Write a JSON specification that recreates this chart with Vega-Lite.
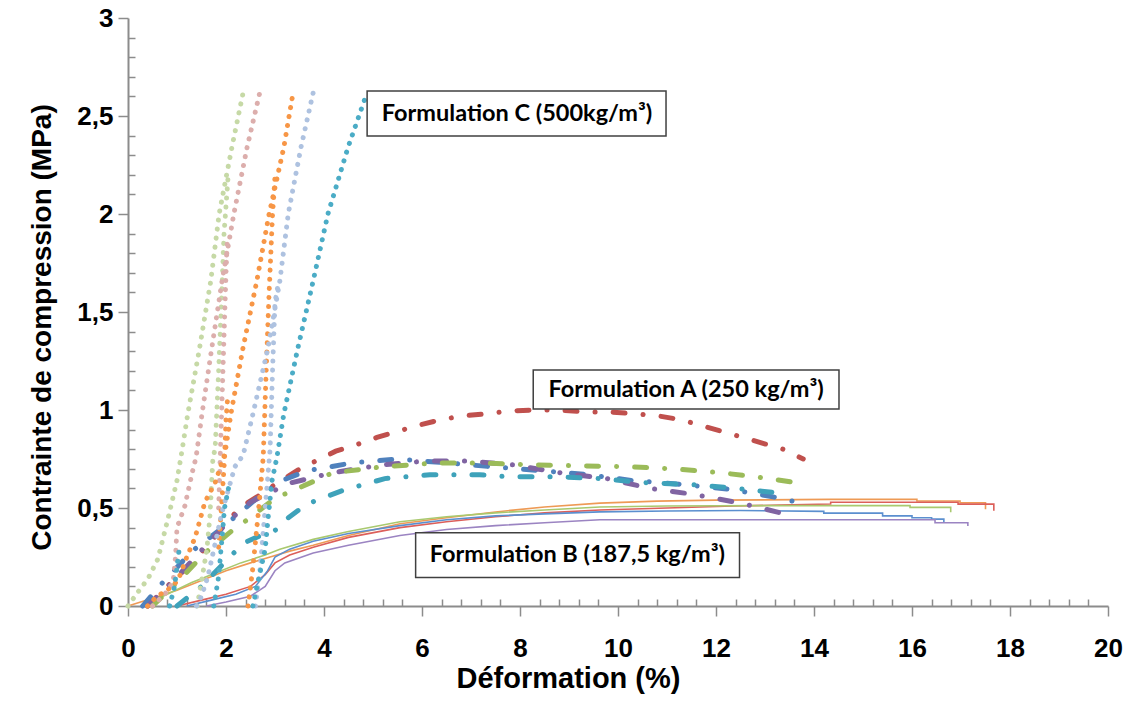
{
  "$schema": "https://vega.github.io/schema/vega-lite/v6.json",
  "width": 980,
  "height": 588,
  "autosize": {"type": "none"},
  "padding": {"left": 128, "top": 18, "right": 35, "bottom": 99},
  "background": "white",
  "config": {
    "view": {"stroke": null},
    "axis": {
      "grid": false,
      "domainColor": "#8c8c8c",
      "domainWidth": 2,
      "tickColor": "#8c8c8c",
      "tickWidth": 1.5,
      "labelFont": "Liberation Sans",
      "labelFontWeight": "bold",
      "labelFontSize": 26,
      "labelColor": "black",
      "labelFlush": false,
      "labelOverlap": false,
      "titleFont": "Liberation Sans",
      "titleFontWeight": "bold",
      "titleColor": "black"
    }
  },
  "datasets": {
    "curves": [
      {"f":"C","s":"C1","x":0,"y":0},{"f":"C","s":"C1","x":0.2,"y":0.07},{"f":"C","s":"C1","x":0.41,"y":0.14},{"f":"C","s":"C1","x":0.61,"y":0.24},{"f":"C","s":"C1","x":0.82,"y":0.45},{"f":"C","s":"C1","x":1.0,"y":0.64},{"f":"C","s":"C1","x":1.1,"y":0.79},{"f":"C","s":"C1","x":1.22,"y":0.98},{"f":"C","s":"C1","x":1.45,"y":1.3},{"f":"C","s":"C1","x":1.69,"y":1.66},{"f":"C","s":"C1","x":1.86,"y":2.0},{"f":"C","s":"C1","x":2.12,"y":2.34},{"f":"C","s":"C1","x":2.35,"y":2.62},
      {"f":"C","s":"C1b","x":1.41,"y":0},{"f":"C","s":"C1b","x":1.47,"y":0.08},{"f":"C","s":"C1b","x":1.61,"y":0.29},{"f":"C","s":"C1b","x":1.67,"y":0.45},{"f":"C","s":"C1b","x":1.73,"y":0.74},{"f":"C","s":"C1b","x":1.78,"y":0.81},{"f":"C","s":"C1b","x":1.85,"y":1.2},{"f":"C","s":"C1b","x":1.9,"y":1.5},{"f":"C","s":"C1b","x":1.96,"y":1.9},{"f":"C","s":"C1b","x":2.04,"y":2.18},
      {"f":"C","s":"C2","x":0.5,"y":0},{"f":"C","s":"C2","x":0.75,"y":0.06},{"f":"C","s":"C2","x":0.92,"y":0.12},{"f":"C","s":"C2","x":0.97,"y":0.25},{"f":"C","s":"C2","x":1.0,"y":0.4},{"f":"C","s":"C2","x":1.16,"y":0.51},{"f":"C","s":"C2","x":1.31,"y":0.68},{"f":"C","s":"C2","x":1.39,"y":0.76},{"f":"C","s":"C2","x":1.51,"y":0.98},{"f":"C","s":"C2","x":1.7,"y":1.3},{"f":"C","s":"C2","x":1.92,"y":1.66},{"f":"C","s":"C2","x":2.16,"y":2.0},{"f":"C","s":"C2","x":2.43,"y":2.34},{"f":"C","s":"C2","x":2.69,"y":2.62},
      {"f":"C","s":"C2b","x":1.85,"y":0.5},{"f":"C","s":"C2b","x":1.9,"y":0.9},{"f":"C","s":"C2b","x":1.95,"y":1.3},{"f":"C","s":"C2b","x":2.0,"y":1.7},{"f":"C","s":"C2b","x":2.03,"y":1.88},
      {"f":"C","s":"C3","x":0.4,"y":0},{"f":"C","s":"C3","x":0.59,"y":0.05},{"f":"C","s":"C3","x":0.8,"y":0.08},{"f":"C","s":"C3","x":1.02,"y":0.13},{"f":"C","s":"C3","x":1.2,"y":0.25},{"f":"C","s":"C3","x":1.37,"y":0.35},{"f":"C","s":"C3","x":1.57,"y":0.53},{"f":"C","s":"C3","x":1.78,"y":0.63},{"f":"C","s":"C3","x":1.98,"y":0.78},{"f":"C","s":"C3","x":2.1,"y":0.98},{"f":"C","s":"C3","x":2.35,"y":1.32},{"f":"C","s":"C3","x":2.63,"y":1.66},{"f":"C","s":"C3","x":2.88,"y":2.0},{"f":"C","s":"C3","x":3.18,"y":2.34},{"f":"C","s":"C3","x":3.37,"y":2.62},
      {"f":"C","s":"C3b","x":2.45,"y":0},{"f":"C","s":"C3b","x":2.55,"y":0.2},{"f":"C","s":"C3b","x":2.65,"y":0.45},{"f":"C","s":"C3b","x":2.76,"y":0.76},{"f":"C","s":"C3b","x":2.82,"y":1.2},{"f":"C","s":"C3b","x":2.88,"y":1.6},{"f":"C","s":"C3b","x":2.95,"y":2.0},{"f":"C","s":"C3b","x":3.0,"y":2.19},
      {"f":"C","s":"C3c","x":1.85,"y":0.3},{"f":"C","s":"C3c","x":1.92,"y":0.55},{"f":"C","s":"C3c","x":1.97,"y":0.75},{"f":"C","s":"C3c","x":2.0,"y":0.95},{"f":"C","s":"C3c","x":2.03,"y":1.05},
      {"f":"C","s":"C4","x":1.4,"y":0},{"f":"C","s":"C4","x":1.5,"y":0.05},{"f":"C","s":"C4","x":1.63,"y":0.15},{"f":"C","s":"C4","x":1.78,"y":0.32},{"f":"C","s":"C4","x":1.92,"y":0.48},{"f":"C","s":"C4","x":2.18,"y":0.71},{"f":"C","s":"C4","x":2.35,"y":0.77},{"f":"C","s":"C4","x":2.55,"y":0.98},{"f":"C","s":"C4","x":2.86,"y":1.32},{"f":"C","s":"C4","x":3.1,"y":1.66},{"f":"C","s":"C4","x":3.27,"y":2.0},{"f":"C","s":"C4","x":3.53,"y":2.34},{"f":"C","s":"C4","x":3.78,"y":2.62},
      {"f":"C","s":"C4b","x":2.6,"y":0},{"f":"C","s":"C4b","x":2.7,"y":0.2},{"f":"C","s":"C4b","x":2.8,"y":0.5},{"f":"C","s":"C4b","x":2.9,"y":0.8},{"f":"C","s":"C4b","x":2.95,"y":1.2},{"f":"C","s":"C4b","x":3.0,"y":1.55},{"f":"C","s":"C4b","x":3.05,"y":1.62},
      {"f":"C","s":"C5","x":2.55,"y":0},{"f":"C","s":"C5","x":2.65,"y":0.12},{"f":"C","s":"C5","x":2.8,"y":0.29},{"f":"C","s":"C5","x":2.86,"y":0.45},{"f":"C","s":"C5","x":2.94,"y":0.64},{"f":"C","s":"C5","x":3.04,"y":0.76},{"f":"C","s":"C5","x":3.18,"y":0.98},{"f":"C","s":"C5","x":3.47,"y":1.32},{"f":"C","s":"C5","x":3.78,"y":1.66},{"f":"C","s":"C5","x":4.08,"y":2.0},{"f":"C","s":"C5","x":4.49,"y":2.34},{"f":"C","s":"C5","x":4.88,"y":2.62},
      {"f":"C","s":"C5b","x":1.75,"y":0},{"f":"C","s":"C5b","x":1.85,"y":0.15},{"f":"C","s":"C5b","x":1.92,"y":0.35},{"f":"C","s":"C5b","x":1.97,"y":0.5},{"f":"C","s":"C5b","x":2.05,"y":0.6},
      {"f":"C","s":"C5c","x":0.85,"y":0},{"f":"C","s":"C5c","x":0.95,"y":0.1},{"f":"C","s":"C5c","x":1.0,"y":0.2},{"f":"C","s":"C5c","x":1.05,"y":0.3},
      {"f":"A","s":"A1","x":0.4,"y":0},{"f":"A","s":"A1","x":0.8,"y":0.1},{"f":"A","s":"A1","x":1.31,"y":0.22},{"f":"A","s":"A1","x":1.7,"y":0.33},{"f":"A","s":"A1","x":2.08,"y":0.45},{"f":"A","s":"A1","x":2.4,"y":0.52},{"f":"A","s":"A1","x":2.65,"y":0.56},{"f":"A","s":"A1","x":3.0,"y":0.62},{"f":"A","s":"A1","x":3.51,"y":0.7},{"f":"A","s":"A1","x":4.24,"y":0.79},{"f":"A","s":"A1","x":4.63,"y":0.82},{"f":"A","s":"A1","x":5.08,"y":0.86},{"f":"A","s":"A1","x":5.49,"y":0.89},{"f":"A","s":"A1","x":5.9,"y":0.92},{"f":"A","s":"A1","x":6.37,"y":0.95},{"f":"A","s":"A1","x":6.84,"y":0.97},{"f":"A","s":"A1","x":7.29,"y":0.98},{"f":"A","s":"A1","x":7.8,"y":0.995},{"f":"A","s":"A1","x":8.27,"y":1.0},{"f":"A","s":"A1","x":8.78,"y":1.0},{"f":"A","s":"A1","x":9.33,"y":0.99},{"f":"A","s":"A1","x":9.84,"y":0.99},{"f":"A","s":"A1","x":10.39,"y":0.98},{"f":"A","s":"A1","x":10.82,"y":0.97},{"f":"A","s":"A1","x":11.29,"y":0.95},{"f":"A","s":"A1","x":11.71,"y":0.92},{"f":"A","s":"A1","x":12.14,"y":0.89},{"f":"A","s":"A1","x":12.55,"y":0.86},{"f":"A","s":"A1","x":12.96,"y":0.83},{"f":"A","s":"A1","x":13.37,"y":0.8},{"f":"A","s":"A1","x":13.78,"y":0.75},
      {"f":"A","s":"A2","x":0.3,"y":0},{"f":"A","s":"A2","x":0.71,"y":0.12},{"f":"A","s":"A2","x":1.31,"y":0.28},{"f":"A","s":"A2","x":1.88,"y":0.39},{"f":"A","s":"A2","x":2.63,"y":0.55},{"f":"A","s":"A2","x":3.14,"y":0.64},{"f":"A","s":"A2","x":3.65,"y":0.69},{"f":"A","s":"A2","x":4.12,"y":0.71},{"f":"A","s":"A2","x":4.57,"y":0.73},{"f":"A","s":"A2","x":5.51,"y":0.75},{"f":"A","s":"A2","x":6.5,"y":0.73},{"f":"A","s":"A2","x":7.45,"y":0.71},{"f":"A","s":"A2","x":8.47,"y":0.69},{"f":"A","s":"A2","x":9.37,"y":0.67},{"f":"A","s":"A2","x":10.3,"y":0.64},{"f":"A","s":"A2","x":11.33,"y":0.62},{"f":"A","s":"A2","x":12.3,"y":0.595},{"f":"A","s":"A2","x":13.2,"y":0.555},{"f":"A","s":"A2","x":13.65,"y":0.53},
      {"f":"A","s":"A3","x":0.4,"y":0},{"f":"A","s":"A3","x":0.9,"y":0.12},{"f":"A","s":"A3","x":1.41,"y":0.26},{"f":"A","s":"A3","x":2.08,"y":0.44},{"f":"A","s":"A3","x":2.5,"y":0.53},{"f":"A","s":"A3","x":2.9,"y":0.58},{"f":"A","s":"A3","x":3.35,"y":0.63},{"f":"A","s":"A3","x":4.18,"y":0.68},{"f":"A","s":"A3","x":5.18,"y":0.72},{"f":"A","s":"A3","x":6.1,"y":0.74},{"f":"A","s":"A3","x":6.95,"y":0.74},{"f":"A","s":"A3","x":7.86,"y":0.72},{"f":"A","s":"A3","x":8.82,"y":0.68},{"f":"A","s":"A3","x":9.78,"y":0.65},{"f":"A","s":"A3","x":10.65,"y":0.6},{"f":"A","s":"A3","x":11.53,"y":0.57},{"f":"A","s":"A3","x":12.5,"y":0.525},{"f":"A","s":"A3","x":13.4,"y":0.47},
      {"f":"A","s":"A4","x":0.5,"y":0},{"f":"A","s":"A4","x":1.0,"y":0.12},{"f":"A","s":"A4","x":1.57,"y":0.27},{"f":"A","s":"A4","x":2.1,"y":0.38},{"f":"A","s":"A4","x":2.49,"y":0.45},{"f":"A","s":"A4","x":3.0,"y":0.55},{"f":"A","s":"A4","x":3.47,"y":0.6},{"f":"A","s":"A4","x":4.18,"y":0.68},{"f":"A","s":"A4","x":5.2,"y":0.71},{"f":"A","s":"A4","x":6.3,"y":0.73},{"f":"A","s":"A4","x":7.18,"y":0.73},{"f":"A","s":"A4","x":8.2,"y":0.72},{"f":"A","s":"A4","x":9.29,"y":0.715},{"f":"A","s":"A4","x":10.24,"y":0.71},{"f":"A","s":"A4","x":11.12,"y":0.7},{"f":"A","s":"A4","x":12.1,"y":0.68},{"f":"A","s":"A4","x":13.1,"y":0.65},{"f":"A","s":"A4","x":13.6,"y":0.63},
      {"f":"A","s":"A5","x":1.0,"y":0},{"f":"A","s":"A5","x":1.5,"y":0.1},{"f":"A","s":"A5","x":2.0,"y":0.23},{"f":"A","s":"A5","x":2.35,"y":0.32},{"f":"A","s":"A5","x":2.8,"y":0.37},{"f":"A","s":"A5","x":3.04,"y":0.39},{"f":"A","s":"A5","x":3.27,"y":0.45},{"f":"A","s":"A5","x":3.65,"y":0.52},{"f":"A","s":"A5","x":4.39,"y":0.59},{"f":"A","s":"A5","x":5.24,"y":0.65},{"f":"A","s":"A5","x":6.16,"y":0.67},{"f":"A","s":"A5","x":7.18,"y":0.67},{"f":"A","s":"A5","x":7.73,"y":0.66},{"f":"A","s":"A5","x":8.67,"y":0.66},{"f":"A","s":"A5","x":9.63,"y":0.65},{"f":"A","s":"A5","x":10.5,"y":0.63},{"f":"A","s":"A5","x":11.47,"y":0.62},{"f":"A","s":"A5","x":12.43,"y":0.6},{"f":"A","s":"A5","x":13.5,"y":0.57},
      {"f":"B","s":"B1","x":0,"y":0},{"f":"B","s":"B1","x":0.5,"y":0.04},{"f":"B","s":"B1","x":1.0,"y":0.08},{"f":"B","s":"B1","x":1.5,"y":0.13},{"f":"B","s":"B1","x":2.0,"y":0.18},{"f":"B","s":"B1","x":2.5,"y":0.22},{"f":"B","s":"B1","x":2.9,"y":0.25},{"f":"B","s":"B1","x":3.3,"y":0.28},{"f":"B","s":"B1","x":3.78,"y":0.31},{"f":"B","s":"B1","x":4.5,"y":0.36},{"f":"B","s":"B1","x":5.55,"y":0.42},{"f":"B","s":"B1","x":6.5,"y":0.45},{"f":"B","s":"B1","x":7.5,"y":0.48},{"f":"B","s":"B1","x":8.5,"y":0.505},{"f":"B","s":"B1","x":9.63,"y":0.525},{"f":"B","s":"B1","x":10.8,"y":0.535},{"f":"B","s":"B1","x":12,"y":0.54},{"f":"B","s":"B1","x":14.34,"y":0.544},{"f":"B","s":"B1","x":16.1,"y":0.544},{"f":"B","s":"B1","x":16.1,"y":0.536},{"f":"B","s":"B1","x":16.98,"y":0.536},{"f":"B","s":"B1","x":16.98,"y":0.527},{"f":"B","s":"B1","x":17.5,"y":0.527},{"f":"B","s":"B1","x":17.5,"y":0.493},
      {"f":"B","s":"B2","x":1.0,"y":0},{"f":"B","s":"B2","x":1.5,"y":0.03},{"f":"B","s":"B2","x":2.0,"y":0.06},{"f":"B","s":"B2","x":2.5,"y":0.1},{"f":"B","s":"B2","x":2.8,"y":0.16},{"f":"B","s":"B2","x":3.0,"y":0.22},{"f":"B","s":"B2","x":3.3,"y":0.26},{"f":"B","s":"B2","x":3.78,"y":0.3},{"f":"B","s":"B2","x":4.5,"y":0.35},{"f":"B","s":"B2","x":5.55,"y":0.4},{"f":"B","s":"B2","x":6.5,"y":0.43},{"f":"B","s":"B2","x":7.5,"y":0.455},{"f":"B","s":"B2","x":8.5,"y":0.475},{"f":"B","s":"B2","x":9.63,"y":0.49},{"f":"B","s":"B2","x":11,"y":0.5},{"f":"B","s":"B2","x":12.35,"y":0.51},{"f":"B","s":"B2","x":13.3,"y":0.515},{"f":"B","s":"B2","x":14.34,"y":0.52},{"f":"B","s":"B2","x":14.34,"y":0.529},{"f":"B","s":"B2","x":16.94,"y":0.529},{"f":"B","s":"B2","x":16.94,"y":0.52},{"f":"B","s":"B2","x":17.67,"y":0.52},{"f":"B","s":"B2","x":17.67,"y":0.486},
      {"f":"B","s":"B3","x":0.3,"y":0},{"f":"B","s":"B3","x":0.8,"y":0.06},{"f":"B","s":"B3","x":1.3,"y":0.12},{"f":"B","s":"B3","x":1.8,"y":0.17},{"f":"B","s":"B3","x":2.3,"y":0.22},{"f":"B","s":"B3","x":2.8,"y":0.26},{"f":"B","s":"B3","x":3.1,"y":0.29},{"f":"B","s":"B3","x":3.78,"y":0.34},{"f":"B","s":"B3","x":4.5,"y":0.38},{"f":"B","s":"B3","x":5.55,"y":0.43},{"f":"B","s":"B3","x":6.5,"y":0.455},{"f":"B","s":"B3","x":7.5,"y":0.475},{"f":"B","s":"B3","x":8.5,"y":0.49},{"f":"B","s":"B3","x":9.63,"y":0.505},{"f":"B","s":"B3","x":11,"y":0.51},{"f":"B","s":"B3","x":13,"y":0.512},{"f":"B","s":"B3","x":15.96,"y":0.512},{"f":"B","s":"B3","x":15.96,"y":0.503},{"f":"B","s":"B3","x":16.79,"y":0.503},{"f":"B","s":"B3","x":16.79,"y":0.478},
      {"f":"B","s":"B4","x":1.2,"y":0},{"f":"B","s":"B4","x":1.7,"y":0.03},{"f":"B","s":"B4","x":2.2,"y":0.06},{"f":"B","s":"B4","x":2.6,"y":0.1},{"f":"B","s":"B4","x":2.85,"y":0.18},{"f":"B","s":"B4","x":3.0,"y":0.25},{"f":"B","s":"B4","x":3.3,"y":0.29},{"f":"B","s":"B4","x":3.78,"y":0.33},{"f":"B","s":"B4","x":4.5,"y":0.37},{"f":"B","s":"B4","x":5.55,"y":0.41},{"f":"B","s":"B4","x":6.5,"y":0.44},{"f":"B","s":"B4","x":7.5,"y":0.46},{"f":"B","s":"B4","x":8.5,"y":0.47},{"f":"B","s":"B4","x":9.63,"y":0.48},{"f":"B","s":"B4","x":11,"y":0.485},{"f":"B","s":"B4","x":12.5,"y":0.487},{"f":"B","s":"B4","x":14.2,"y":0.483},{"f":"B","s":"B4","x":14.2,"y":0.474},{"f":"B","s":"B4","x":15.4,"y":0.474},{"f":"B","s":"B4","x":15.4,"y":0.46},{"f":"B","s":"B4","x":16.0,"y":0.46},{"f":"B","s":"B4","x":16.0,"y":0.45},{"f":"B","s":"B4","x":16.4,"y":0.45},{"f":"B","s":"B4","x":16.4,"y":0.443},{"f":"B","s":"B4","x":16.65,"y":0.443},{"f":"B","s":"B4","x":16.65,"y":0.425},
      {"f":"B","s":"B5","x":1.6,"y":0},{"f":"B","s":"B5","x":2.0,"y":0.02},{"f":"B","s":"B5","x":2.5,"y":0.05},{"f":"B","s":"B5","x":2.8,"y":0.1},{"f":"B","s":"B5","x":3.0,"y":0.18},{"f":"B","s":"B5","x":3.2,"y":0.22},{"f":"B","s":"B5","x":3.78,"y":0.27},{"f":"B","s":"B5","x":4.5,"y":0.31},{"f":"B","s":"B5","x":5.55,"y":0.36},{"f":"B","s":"B5","x":6.5,"y":0.39},{"f":"B","s":"B5","x":7.5,"y":0.41},{"f":"B","s":"B5","x":8.5,"y":0.425},{"f":"B","s":"B5","x":9.63,"y":0.44},{"f":"B","s":"B5","x":11,"y":0.44},{"f":"B","s":"B5","x":12.5,"y":0.44},{"f":"B","s":"B5","x":14,"y":0.44},{"f":"B","s":"B5","x":16.47,"y":0.44},{"f":"B","s":"B5","x":16.47,"y":0.425},{"f":"B","s":"B5","x":17.14,"y":0.425},{"f":"B","s":"B5","x":17.14,"y":0.408}
    ],
    "boxes": [
      {"x": 4.88, "y": 2.627, "x2": 10.98, "y2": 2.398},
      {"x": 8.27, "y": 1.204, "x2": 14.51, "y2": 1.005},
      {"x": 5.87, "y": 0.374, "x2": 12.48, "y2": 0.146}
    ],
    "labels": [
      {"x": 7.94, "y": 2.512, "label": "Formulation C (500kg/m³)"},
      {"x": 11.39, "y": 1.104, "label": "Formulation A (250 kg/m³)"},
      {"x": 9.17, "y": 0.26, "label": "Formulation B (187,5 kg/m³)"}
    ]
  },
  "layer": [
    {
      "encoding": {
        "x": {
          "field": "x", "type": "quantitative", "title": "Déformation (%)",
          "scale": {"domain": [0, 20], "nice": false, "zero": false},
          "axis": {"orient": "bottom", "values": [0,2,4,6,8,10,12,14,16,18,20], "tickSize": 10, "labelPadding": 19, "titlePadding": 3, "titleFontSize": 29, "titleX": 440}
        },
        "y": {
          "field": "y", "type": "quantitative", "title": "Contrainte de compression (MPa)",
          "scale": {"domain": [0, 3], "nice": false, "zero": false},
          "axis": {"orient": "left", "values": [0,0.5,1,1.5,2,2.5,3], "tickSize": 10, "labelPadding": 5, "titlePadding": 20, "titleFontSize": 28, "titleY": 309, "labelExpr": "replace(toString(datum.value), '.', ',')"}
        }
      },
      "layer": [
        {
          "data": {"name": "curves"},
          "transform": [{"filter": "datum.f === 'B'"}],
          "mark": {"type": "line", "strokeWidth": 1.6},
          "encoding": {
            "color": {"field": "s", "type": "nominal", "legend": null,
              "scale": {"domain": ["C1","C1b","C2","C2b","C3","C3b","C3c","C4","C4b","C5","C5b","C5c","A1","A2","A3","A4","A5","B1","B2","B3","B4","B5"],
                        "range": ["#c6d9a6","#c6d9a6","#dcaeac","#dcaeac","#f79646","#f79646","#f79646","#aec2e0","#aec2e0","#4bacc6","#4bacc6","#4bacc6","#c0504d","#4f81bd","#8064a2","#9bbb59","#3ea2ba","#ee9a55","#dc5f5a","#a9c96f","#5b8fcf","#9b84c2"]}},
            "order": {"value": null}
          }
        },
        {
          "data": {"name": "curves"},
          "transform": [{"filter": "datum.f === 'A'"}],
          "mark": {"type": "line", "strokeWidth": 5, "strokeCap": "round", "strokeDash": [12, 18, 0.1, 18]},
          "encoding": {
            "color": {"field": "s", "type": "nominal", "legend": null},
            "order": {"value": null}
          }
        },
        {
          "data": {"name": "curves"},
          "transform": [{"filter": "datum.f === 'C'"}],
          "mark": {"type": "line", "strokeWidth": 5, "strokeCap": "round", "strokeDash": [0.1, 9]},
          "encoding": {
            "color": {"field": "s", "type": "nominal", "legend": null},
            "order": {"value": null}
          }
        },
        {
          "data": {"name": "boxes"},
          "mark": {"type": "rect", "fill": "white", "stroke": "#404040", "strokeWidth": 1.5},
          "encoding": {"x2": {"field": "x2"}, "y2": {"field": "y2"}}
        },
        {
          "data": {"name": "labels"},
          "mark": {"type": "text", "font": "Lato", "fontWeight": "bold", "fontSize": 23.5, "align": "center", "baseline": "middle", "color": "black"},
          "encoding": {"text": {"field": "label"}}
        }
      ]
    },
    {
      "data": {"name": "boxes"},
      "mark": {"type": "point", "opacity": 0},
      "encoding": {
        "x": {
          "field": "x", "type": "quantitative", "title": null,
          "scale": {"domain": [0, 20], "nice": false, "zero": false},
          "axis": {"orient": "bottom", "values": [0.4,0.8,1.2,1.6,2.4,2.8,3.2,3.6,4.4,4.8,5.2,5.6,6.4,6.8,7.2,7.6,8.4,8.8,9.2,9.6,10.4,10.8,11.2,11.6,12.4,12.8,13.2,13.6,14.4,14.8,15.2,15.6,16.4,16.8,17.2,17.6,18.4,18.8,19.2,19.6], "tickSize": -7, "labels": false, "domain": false, "title": null}
        },
        "y": {
          "field": "y", "type": "quantitative", "title": null,
          "scale": {"domain": [0, 3], "nice": false, "zero": false},
          "axis": {"orient": "left", "values": [0.1,0.2,0.3,0.4,0.6,0.7,0.8,0.9,1.1,1.2,1.3,1.4,1.6,1.7,1.8,1.9,2.1,2.2,2.3,2.4,2.6,2.7,2.8,2.9], "tickSize": -7, "labels": false, "domain": false, "title": null}
        }
      }
    }
  ],
  "resolve": {"axis": {"x": "independent", "y": "independent"}}
}
